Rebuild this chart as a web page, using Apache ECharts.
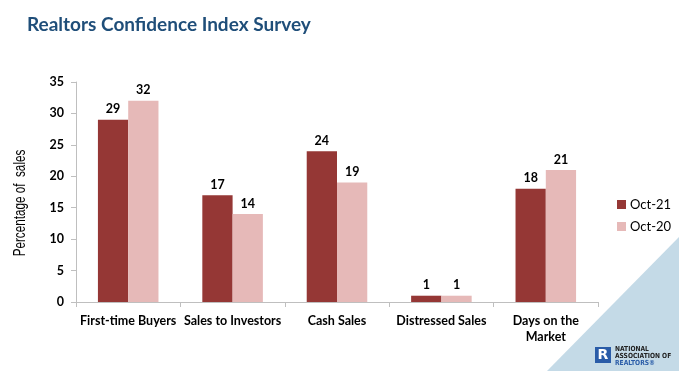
<!DOCTYPE html>
<html><head><meta charset="utf-8">
<script src="https://cdn.jsdelivr.net/npm/echarts@6/dist/echarts.min.js"></script>
<style>html,body{margin:0;padding:0;background:#fff}#c{width:679px;height:371px}</style>
</head><body><div id="c"></div>
<script>
const categories = ['First-time Buyers', 'Sales to Investors', 'Cash Sales', 'Distressed Sales', 'Days on the\nMarket'];
const oct21 = [29, 17, 24, 1, 18];
const oct20 = [32, 14, 19, 1, 21];
const seriesNames = ['Oct-21', 'Oct-20'];
const yTicks = [0, 5, 10, 15, 20, 25, 30, 35];
const yAxisTitle = 'Percentage of  sales';

const font = 'Lato, "Open Sans", sans-serif';
const chart = echarts.init(document.getElementById('c'), null, {renderer: 'canvas'});
chart.setOption({
  animation: false,
  backgroundColor: '#ffffff',
  title: {
    text: 'Realtors Confidence Index Survey',
    left: 22, top: 10,
    textStyle: {color: '#1f4e79', fontSize: 19, fontWeight: 'bold', fontFamily: font}
  },
  graphic: [
    {type: 'polygon', z: -10, shape: {points: [[679, 237], [679, 371], [547, 371]]}, style: {fill: '#c4dae7'}},
    {type: 'rect', shape: {x: 595, y: 347, width: 16, height: 16}, style: {fill: '#2a5ca8'}},
    {type: 'text', style: {x: 603, y: 355, text: 'R', fill: '#ffffff', font: 'bold 14px "DejaVu Sans"', align: 'center', verticalAlign: 'middle'}},
    {type: 'text', x: 615, y: 349, scaleX: 0.85, style: {x: 0, y: 0, text: 'NATIONAL', fill: '#222222', font: 'bold 7px "DejaVu Sans"', verticalAlign: 'middle'}},
    {type: 'text', x: 615, y: 356, scaleX: 0.85, style: {x: 0, y: 0, text: 'ASSOCIATION OF', fill: '#222222', font: 'bold 7px "DejaVu Sans"', verticalAlign: 'middle'}},
    {type: 'text', x: 615, y: 363, scaleX: 0.85, style: {x: 0, y: 0, text: 'REALTORS\u00ae', fill: '#2a5ca8', font: 'bold 7px "DejaVu Sans"', verticalAlign: 'middle'}},
    {type: 'text', x: 21, y: 203, rotation: Math.PI / 2, scaleX: 0.78, scaleY: 1.05,
     style: {x: 0, y: 0, text: yAxisTitle, fill: '#000', font: '15px "Liberation Sans", sans-serif', align: 'center', verticalAlign: 'middle'}}
  ],
  legend: {
    data: seriesNames,
    orient: 'vertical',
    left: 612, top: 193,
    itemWidth: 9, itemHeight: 9, itemGap: 9,
    icon: 'rect',
    textStyle: {fontSize: 13, fontFamily: font, color: '#000', padding: [0, 0, 0, -1]}
  },
  grid: {left: 76, right: 81, top: 82, bottom: 69},
  xAxis: {
    type: 'category',
    data: categories,
    axisLine: {lineStyle: {color: '#bfbfbf'}},
    axisTick: {show: true, length: 5, lineStyle: {color: '#bfbfbf'}},
    axisLabel: {color: '#000', fontSize: 12.5, fontWeight: 'bold', fontFamily: font, margin: 11, interval: 0, lineHeight: 16}
  },
  yAxis: {
    type: 'value',
    min: 0, max: 35, interval: 5,
    axisLine: {show: true, lineStyle: {color: '#bfbfbf'}},
    axisTick: {show: true, length: 5, lineStyle: {color: '#bfbfbf'}},
    splitLine: {show: false},
    axisLabel: {color: '#000', fontSize: 12.5, fontWeight: 'bold', fontFamily: font, margin: 12}
  },
  series: [
    {name: seriesNames[0], type: 'bar', data: oct21, barGap: '0%', barCategoryGap: '42%',
     itemStyle: {color: '#953735'},
     label: {show: true, position: 'top', distance: 4, color: '#000', fontSize: 12.5, fontWeight: 'bold', fontFamily: font}},
    {name: seriesNames[1], type: 'bar', data: oct20, barGap: '0%', barCategoryGap: '42%',
     itemStyle: {color: '#e6b9b8'},
     label: {show: true, position: 'top', distance: 4, color: '#000', fontSize: 12.5, fontWeight: 'bold', fontFamily: font}}
  ]
});
</script>
</body></html>
